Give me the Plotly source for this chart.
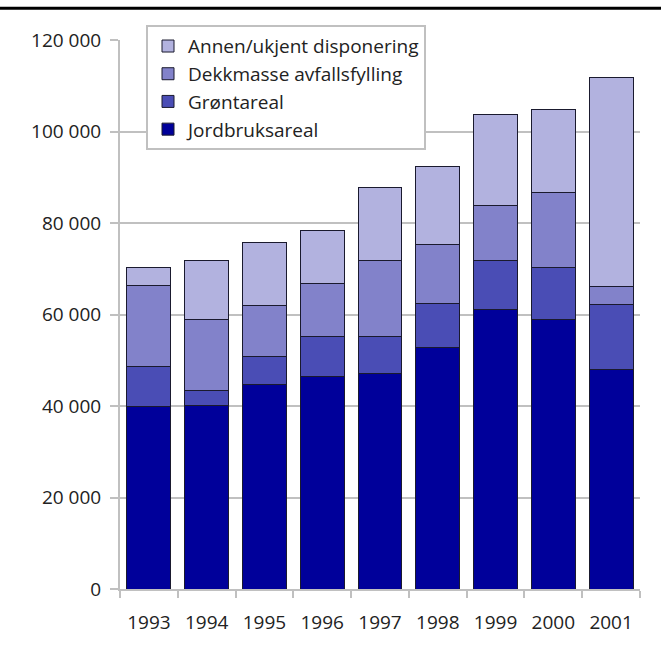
import plotly.graph_objects as go

years = ["1993", "1994", "1995", "1996", "1997", "1998", "1999", "2000", "2001"]
jordbruksareal = [39900, 40100, 44600, 46500, 47100, 52800, 61000, 58900, 48000]
grontareal = [8800, 3300, 6300, 8600, 8100, 9600, 10700, 11400, 14100]
dekkmasse = [17700, 15500, 11100, 11600, 16500, 13000, 12200, 16400, 4100]
annen = [3900, 12900, 13700, 11700, 16100, 17000, 19800, 18100, 45700]

series = [
    ("Jordbruksareal", jordbruksareal, "#00009a"),
    ("Grøntareal", grontareal, "#4a4db5"),
    ("Dekkmasse avfallsfylling", dekkmasse, "#8282ca"),
    ("Annen/ukjent disponering", annen, "#b2b2df"),
]

fig = go.Figure()
for name, vals, color in series:
    fig.add_trace(go.Bar(
        x=years,
        y=vals,
        name=name,
        marker=dict(color=color, line=dict(color="#1a1a2e", width=1)),
    ))

# black rule across the top
fig.add_shape(type="line", xref="paper", yref="paper",
              x0=-1, x1=2, y0=1.058, y1=1.058,
              line=dict(color="black", width=3))

fig.update_layout(
    barmode="stack",
    bargap=0.24,
    width=661,
    height=648,
    separators=", ",
    paper_bgcolor="white",
    plot_bgcolor="white",
    font=dict(family="Open Sans, sans-serif", size=19, color="#222222"),
    margin=dict(l=120, r=21, t=40, b=59),
    legend=dict(
        traceorder="reversed",
        x=0.05, y=1.027, xanchor="left", yanchor="top",
        bgcolor="white", bordercolor="#c0c0c0", borderwidth=2,
        font=dict(size=19),
    ),
    xaxis=dict(
        showline=True, linecolor="#c0c0c0", linewidth=2,
        ticks="outside", tickson="boundaries", ticklen=7,
        tickcolor="#c0c0c0", tickwidth=2, ticklabelstandoff=15,
    ),
    yaxis=dict(
        range=[0, 120000], dtick=20000, tickformat=",d",
        showline=True, linecolor="#c0c0c0", linewidth=2,
        showgrid=True, gridcolor="#c0c0c0", gridwidth=2,
        ticks="outside", ticklen=8, tickcolor="#c0c0c0", tickwidth=2,
        zeroline=False, ticklabelstandoff=5,
    ),
)

# drop the default page margin so the figure sits at the window's top-left
fig.write_html("out.html", config={"displayModeBar": False},
               post_script="document.body.style.margin='0';")
